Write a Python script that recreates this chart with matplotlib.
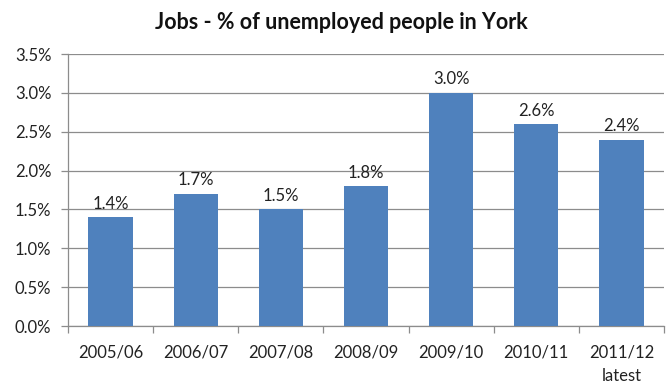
import matplotlib
matplotlib.use("Agg")
import matplotlib.pyplot as plt
import numpy as np
from matplotlib.ticker import FuncFormatter, MultipleLocator

categories = ["2005/06", "2006/07", "2007/08", "2008/09", "2009/10", "2010/11", "2011/12\nlatest"]
values = [1.4, 1.7, 1.5, 1.8, 3.0, 2.6, 2.4]
title = "Jobs - % of unemployed people in York"

plt.rcParams['font.family'] = ['Lato', 'DejaVu Sans']

fig = plt.figure(figsize=(6.7, 3.9), dpi=100)
ax = fig.add_axes([0.1015, 0.164, 0.8895, 0.6975])

x = np.arange(len(categories))
bars = ax.bar(x, values, width=0.52, color="#4F81BD", zorder=3)
for xi, v in zip(x, values):
    ax.text(xi, v + 0.07, f"{v:.1f}%", ha="center", va="bottom", fontsize=12, color="#222222")

ax.set_xlim(-0.5, len(categories) - 0.5)
ax.set_ylim(0, 3.5)
ax.yaxis.set_major_locator(MultipleLocator(0.5))
ax.yaxis.set_major_formatter(FuncFormatter(lambda v, p: f"{v:.1f}%"))
ax.grid(axis="y", color="#8c8c8c", linewidth=0.9, zorder=0)

ax.set_xticks(x)
ax.set_xticklabels(categories, fontsize=12, color="#222222", linespacing=1.6)
ax.set_xticks(np.arange(-0.5, len(categories), 1.0), minor=True)
ax.tick_params(axis="x", which="major", length=0, pad=13)
ax.tick_params(axis="x", which="minor", length=5, color="#8c8c8c", width=0.9)
ax.tick_params(axis="y", length=5, color="#8c8c8c", width=0.9, labelsize=12, labelcolor="#222222", pad=7)

for s in ["top", "right"]:
    ax.spines[s].set_visible(False)
for s in ["left", "bottom"]:
    ax.spines[s].set_color("#8c8c8c")
    ax.spines[s].set_linewidth(0.9)

fig.suptitle(title, x=0.509, y=0.97, fontsize=15.5, fontweight="bold", color="#111111", va="top")

fig.savefig("out.png", dpi=100)
